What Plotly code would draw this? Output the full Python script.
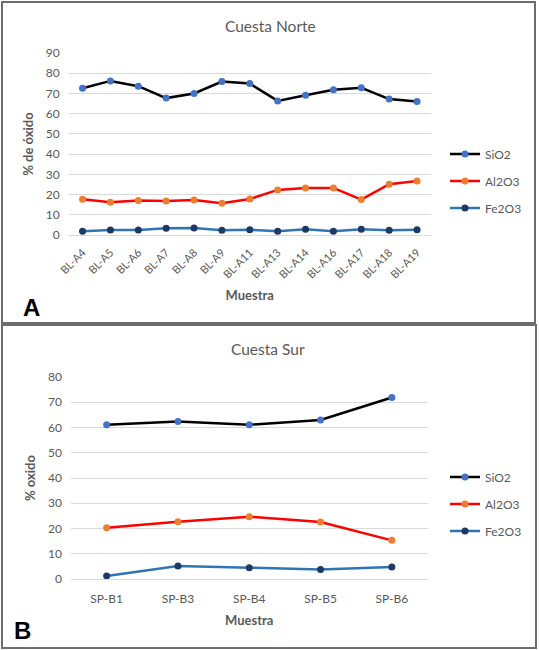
import plotly.graph_objects as go

W, H = 539, 650

# ---- Data: Cuesta Norte (A) ----
cat_a = ["BL-A4", "BL-A5", "BL-A6", "BL-A7", "BL-A8", "BL-A9", "BL-A11",
         "BL-A13", "BL-A14", "BL-A16", "BL-A17", "BL-A18", "BL-A19"]
sio2_a = [72.6, 76.2, 73.6, 67.7, 70.0, 75.9, 74.9, 66.3, 69.1, 71.8, 72.8, 67.2, 66.0]
al2o3_a = [17.7, 16.2, 17.0, 16.8, 17.3, 15.7, 17.8, 22.3, 23.3, 23.3, 17.5, 25.1, 26.7]
fe2o3_a = [1.8, 2.5, 2.5, 3.3, 3.5, 2.3, 2.6, 1.8, 2.8, 1.8, 2.8, 2.3, 2.6]

# ---- Data: Cuesta Sur (B) ----
cat_b = ["SP-B1", "SP-B3", "SP-B4", "SP-B5", "SP-B6"]
sio2_b = [61.1, 62.4, 61.1, 63.0, 71.9]
al2o3_b = [20.3, 22.7, 24.7, 22.6, 15.3]
fe2o3_b = [1.2, 5.1, 4.5, 3.8, 4.8]

ticks_a = [0, 10, 20, 30, 40, 50, 60, 70, 80, 90]
ticks_b = [0, 10, 20, 30, 40, 50, 60, 70, 80]

series_names = ["SiO2", "Al2O3", "Fe2O3"]
line_colors = ["#000000", "#FF0000", "#2E75B6"]
marker_colors = ["#4472C4", "#ED7D31", "#1F3864"]

FONT = "Lato"
GRAY = "#595959"


def px(x):
    return x / W


def py(y):
    return 1 - y / H


fig = go.Figure()

for i, (name, vals) in enumerate(zip(series_names, [sio2_a, al2o3_a, fe2o3_a])):
    fig.add_trace(go.Scatter(
        x=cat_a, y=vals, name=name, mode="lines+markers",
        line=dict(color=line_colors[i], width=2.5),
        marker=dict(color=marker_colors[i], size=7),
        xaxis="x", yaxis="y", legend="legend", legendgroup="a" + name,
    ))

for i, (name, vals) in enumerate(zip(series_names, [sio2_b, al2o3_b, fe2o3_b])):
    fig.add_trace(go.Scatter(
        x=cat_b, y=vals, name=name, mode="lines+markers",
        line=dict(color=line_colors[i], width=2.5),
        marker=dict(color=marker_colors[i], size=7),
        xaxis="x2", yaxis="y2", legend="legend2", legendgroup="b" + name,
    ))

axis_common = dict(
    showgrid=False, zeroline=False, showline=True, linecolor="#D9D9D9",
    linewidth=1, ticks="", tickfont=dict(family=FONT, size=12, color=GRAY),
    fixedrange=True, automargin=False,
)
yaxis_common = dict(
    showgrid=True, gridcolor="#D9D9D9", gridwidth=1, zeroline=False,
    showline=False, ticks="", tickfont=dict(family=FONT, size=12, color=GRAY),
    fixedrange=True, automargin=False, ticklabelstandoff=8,
)

fig.update_layout(
    width=W, height=H,
    margin=dict(l=0, r=0, t=0, b=0),
    paper_bgcolor="white", plot_bgcolor="white",
    font=dict(family=FONT, color=GRAY),
    xaxis=dict(axis_common, domain=[px(68.6), px(431)], anchor="y",
               type="category", range=[-0.5, len(cat_a) - 0.5],
               tickangle=-45, tickfont=dict(family=FONT, size=11, color=GRAY),
               ticklabelstandoff=6,
               title=dict(text="<b>Muestra</b>", font=dict(family=FONT, size=13, color=GRAY),
                          standoff=11)),
    yaxis=dict(yaxis_common, domain=[py(235), py(53)], anchor="x",
               range=[0, 90], tickvals=ticks_a,
               title=dict(text="<b>% de óxido</b>", font=dict(family=FONT, size=13, color=GRAY),
                          standoff=9)),
    xaxis2=dict(axis_common, domain=[px(71), px(427.5)], anchor="y2",
                type="category", range=[-0.5, len(cat_b) - 0.5],
                ticklabelstandoff=9,
                title=dict(text="<b>Muestra</b>", font=dict(family=FONT, size=13, color=GRAY),
                           standoff=10)),
    yaxis2=dict(yaxis_common, domain=[py(579), py(377)], anchor="x2",
                range=[0, 80], tickvals=ticks_b,
                title=dict(text="<b>% oxido</b>", font=dict(family=FONT, size=13, color=GRAY),
                           standoff=9)),
    legend=dict(x=px(445), y=py(181), xanchor="left", yanchor="middle",
                font=dict(family=FONT, size=12, color=GRAY), bgcolor="rgba(0,0,0,0)",
                tracegroupgap=8, itemwidth=30),
    legend2=dict(x=px(445), y=py(504), xanchor="left", yanchor="middle",
                 font=dict(family=FONT, size=12, color=GRAY), bgcolor="rgba(0,0,0,0)",
                 tracegroupgap=8, itemwidth=30),
    shapes=[
        dict(type="rect", xref="paper", yref="paper", x0=px(2), x1=px(535),
             y0=py(323), y1=py(2), line=dict(color="#6D6D6D", width=2)),
        dict(type="rect", xref="paper", yref="paper", x0=px(2), x1=px(536),
             y0=py(648), y1=py(325), line=dict(color="#6D6D6D", width=2)),
    ],
    annotations=[
        dict(text="Cuesta Norte", x=px(270), y=py(26), xref="paper", yref="paper",
             showarrow=False, xanchor="center", yanchor="middle",
             font=dict(family=FONT, size=15.5, color=GRAY)),
        dict(text="Cuesta Sur", x=px(268), y=py(349), xref="paper", yref="paper",
             showarrow=False, xanchor="center", yanchor="middle",
             font=dict(family=FONT, size=15.5, color=GRAY)),
        dict(text="<b>A</b>", x=px(21), y=py(307), xref="paper", yref="paper",
             showarrow=False, xanchor="left", yanchor="middle",
             font=dict(family="Liberation Sans", size=24, color="#000000")),
        dict(text="<b>B</b>", x=px(12), y=py(630), xref="paper", yref="paper",
             showarrow=False, xanchor="left", yanchor="middle",
             font=dict(family="Liberation Sans", size=24, color="#000000")),
    ],
)

fig.write_html(
    "out.html",
    config={"displayModeBar": False, "staticPlot": True},
    post_script="document.body.style.margin='0';document.body.style.overflow='hidden';",
)
